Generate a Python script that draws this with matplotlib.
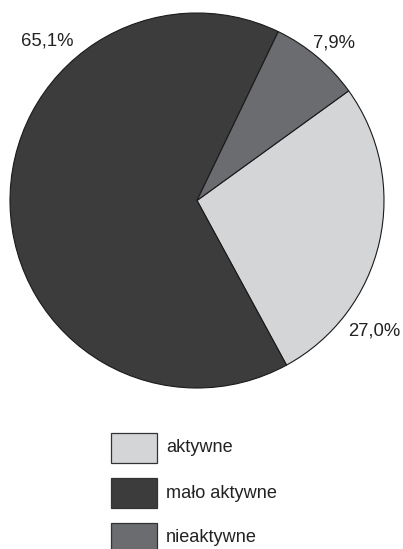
import matplotlib
matplotlib.use("Agg")
import matplotlib.pyplot as plt
from matplotlib.patches import Rectangle

plt.rcParams['font.family'] = ['Liberation Sans', 'DejaVu Sans']

categories = ["aktywne", "mało aktywne", "nieaktywne"]
shares = [27.0, 65.1, 7.9]
colors = ["#d4d5d7", "#3c3c3c", "#6b6c70"]
label_pos = [(0.949, -0.698), (-0.80, 0.85), (0.733, 0.842)]

W, H = 403, 549
fig = plt.figure(figsize=(W / 100, H / 100), dpi=100)

# pie axes, placed in pixel terms
px_l, px_r, px_t, px_b = 10, 384, 13, 388
ax = fig.add_axes([px_l / W, 1 - px_b / H, (px_r - px_l) / W, (px_b - px_t) / H])
ax.pie(shares, colors=colors, startangle=35.8, counterclock=False,
       radius=1.0, wedgeprops=dict(edgecolor="#1a1a1a", linewidth=0.8))
ax.set_xlim(-1.0, 1.0)
ax.set_ylim(-1.0, 1.0)
ax.set_aspect('auto')
ax.axis('off')

for v, (x, y) in zip(shares, label_pos):
    ax.text(x, y, f"{v:.1f}%".replace(".", ","), ha="center", va="center",
            fontsize=13.3, color="#222222")

# legend drawn in pixel coordinates
lax = fig.add_axes([0, 0, 1, 1])
lax.set_xlim(0, W)
lax.set_ylim(H, 0)
lax.axis('off')
y0, step = 433, 45
for i, (name, c) in enumerate(zip(categories, colors)):
    y = y0 + i * step
    lax.add_patch(Rectangle((111, y), 46, 30, facecolor=c, edgecolor="#333333", linewidth=0.9))
    lax.text(166, y + 15, name, ha="left", va="center", fontsize=13.1, color="#222222")

fig.savefig("out.png", dpi=100)
